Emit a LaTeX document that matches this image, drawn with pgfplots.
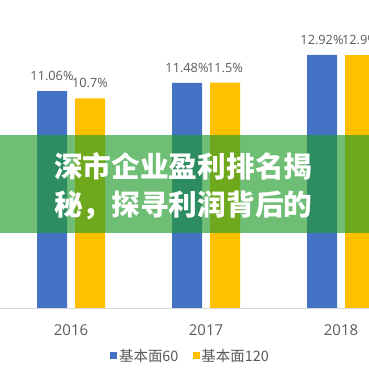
\documentclass[border=0pt]{standalone}
\usepackage{fontspec}
\setmainfont{Open Sans}
\newfontfamily\cjk{Noto Sans CJK SC}
\usepackage{pgfplots}
\pgfplotsset{compat=1.18}
\definecolor{cblue}{HTML}{4472C4}
\definecolor{cyellow}{HTML}{FFC000}
\definecolor{lblgray}{HTML}{595959}
\definecolor{banner}{RGB}{35,156,45}
\pgfplotsset{mylegend/.style={legend image code/.code={\fill[##1,draw=none] (0bp,-3.5bp) rectangle (7bp,3.5bp);}}}
\begin{document}
\begin{tikzpicture}
\useasboundingbox (0bp,0bp) rectangle (369bp,369bp);
\clip (0bp,0bp) rectangle (369bp,369bp);
\begin{axis}[
  at={(0bp,61bp)}, anchor=south west,
  scale only axis, width=369bp, height=308bp,
  xmin=-0.52593, xmax=2.20741, ymin=0, ymax=15.7143,
  axis line style={draw=none},
  xtick={0,1,2}, xticklabels={2016,2017,2018},
  ytick={0}, yticklabels={},
  ymajorgrids, major grid style={draw=black!15, line width=0.8bp},
  major tick length=0,
  xticklabel style={font=\fontsize{15}{18}\selectfont, text=lblgray, anchor=base, yshift=-27bp},
  ybar=8bp, bar width=30bp,
  /pgf/number format/assume math mode=true,
  nodes near coords={\pgfmathprintnumber{\pgfplotspointmeta}\%},
  every node near coord/.append style={font=\fontsize{12.8}{15}\selectfont, text=lblgray, anchor=base, yshift=10.5bp},
  legend columns=2,
  legend style={draw=none, fill=none, at={(0.5163,-0.1558)}, anchor=center,
    font=\cjk\fontsize{14.5}{16}\selectfont, text=lblgray,
    /tikz/every even column/.append style={column sep=12bp}},
]
\addplot[fill=cblue, draw=none, mylegend] coordinates {(0,11.06) (1,11.48) (2,12.92)};
\addplot[fill=cyellow, draw=none, mylegend] coordinates {(0,10.7) (1,11.5) (2,12.9)};
\legend{基本面60, 基本面120}
\end{axis}
\fill[banner, opacity=0.66] (0bp,136bp) rectangle (369bp,234bp);
\node[anchor=west, inner sep=0, text=white, font=\cjk\bfseries\fontsize{28.8}{32}\selectfont] at (54bp,203bp) {深市企业盈利排名揭};
\node[anchor=west, inner sep=0, text=white, font=\cjk\bfseries\fontsize{28.8}{32}\selectfont] at (54bp,164bp) {秘，探寻利润背后的};
\end{tikzpicture}
\end{document}
